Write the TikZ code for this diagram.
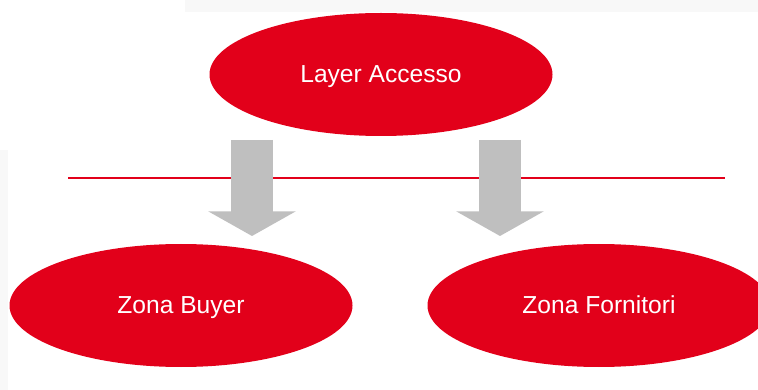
\documentclass[tikz,border=0pt]{standalone}
\usepackage{fontspec}
\setmainfont{Liberation Sans}
\usepackage{xcolor}
\usepackage{tikz}
\usetikzlibrary{arrows.meta, positioning, shapes.geometric}

\definecolor{zonared}{HTML}{E2001A}
\definecolor{arrowgray}{HTML}{BFBFBF}
\definecolor{shadegray}{HTML}{F8F8F8}

\begin{document}
\begin{tikzpicture}[
    x=1pt, y=-1pt,
    every node/.style={font=\fontsize{24.6}{29}\selectfont},
    zone/.style={ellipse, fill=zonared, text=white, inner sep=0pt,
        text height=20pt, text depth=4pt,
        minimum width=343pt, minimum height=123pt},
    divider/.style={draw=zonared, line width=1.4pt},
    blockarrow/.style={draw=arrowgray, line width=42.5pt,
        -{Triangle[width=86pt,length=24.5pt]}, arrowgray}
]

% frame and faint screenshot edges
\useasboundingbox (0,0) rectangle (758,390);
\fill[shadegray] (185,0) rectangle (758,12);
\fill[shadegray] (0,150) rectangle (8,390);

\node[zone] (access) at (381,74.5) {Layer Accesso};
\node[zone] (buyer)  at (181,305.5) {Zona Buyer};
\node[zone] (suppl)  at (599,305.5) {Zona Fornitori};

\coordinate (div_l) at (68,178);
\coordinate (div_r) at (725,178);
\draw[divider] (div_l) -- (div_r);

\coordinate (arr1_s) at (252,140);
\coordinate (arr1_e) at (252,236);
\coordinate (arr2_s) at (500,140);
\coordinate (arr2_e) at (500,236);

\draw[blockarrow] (arr1_s) -- (arr1_e);
\draw[blockarrow] (arr2_s) -- (arr2_e);

\end{tikzpicture}
\end{document}
